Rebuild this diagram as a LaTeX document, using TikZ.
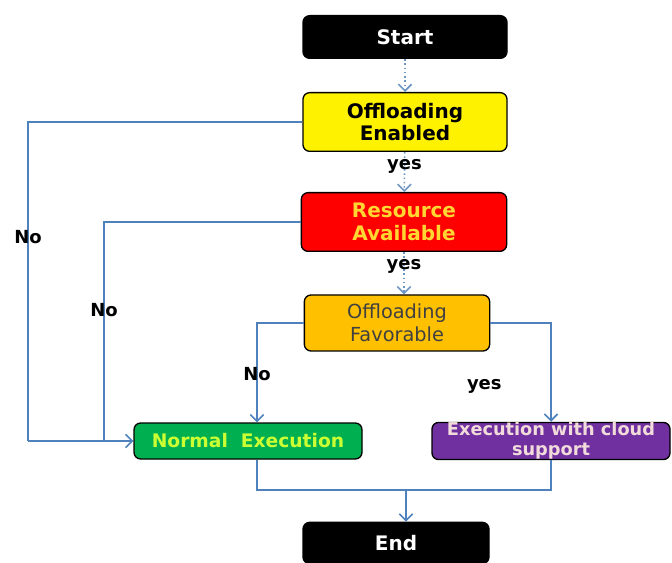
\documentclass[tikz,border=0pt]{standalone}
\usepackage{fontspec}
\setmainfont{DejaVu Sans}
\usetikzlibrary{arrows.meta}
\definecolor{linkblue}{RGB}{79,129,189}
\definecolor{dotblue}{RGB}{110,150,195}
\definecolor{favorfill}{RGB}{255,192,0}
\definecolor{normalfill}{RGB}{0,176,80}
\definecolor{cloudfill}{RGB}{112,48,160}
\definecolor{availtext}{RGB}{255,215,50}
\definecolor{normaltext}{RGB}{204,255,51}
\definecolor{cloudtext}{RGB}{242,220,219}

\begin{document}
\begin{tikzpicture}[x=0.75pt,y=-0.75pt,
	box/.style={draw=black,line width=1pt,rounded corners=5pt,align=center,inner sep=1pt,
		font=\bfseries\fontsize{15}{17}\selectfont},
	line/.style={draw=linkblue,line width=1.2pt},
	link/.style={line,-{Straight Barb[length=5pt,width=10pt]}},
	dots/.style={draw=dotblue,line width=1.2pt,dotted,-{Straight Barb[length=5pt,width=10pt]}},
	lbl/.style={font=\bfseries\fontsize{13.5}{15}\selectfont,inner sep=1pt}]
%
	\useasboundingbox (0,0) rectangle (672,563);
%
	\node[box,fill=black,text=white,minimum width=153pt,minimum height=32pt] (start) at (405,37) {Start};
	\node[box,fill=yellow,minimum width=153pt,minimum height=44pt] (enabled) at (405,122) {Offloading\\Enabled};
	\node[box,fill=red,text=availtext,minimum width=154pt,minimum height=44pt] (avail) at (404,222) {Resource\\Available};
	\node[box,fill=favorfill,text=black!75,font=\fontsize{14.5}{17}\selectfont,minimum width=139pt,minimum height=42pt] (favor) at (397,323) {Offloading\\Favorable};
	\node[box,fill=normalfill,text=normaltext,font=\bfseries\fontsize{14}{16}\selectfont,minimum width=171pt,minimum height=27pt] (normal) at (248,441) {Normal\ \ Execution};
	\node[box,fill=cloudfill,text=cloudtext,font=\bfseries\fontsize{13.3}{15}\selectfont,minimum width=178.5pt,minimum height=27pt,inner sep=0pt] (cloud) at (551,441) {Execution with cloud\\support};
	\node[box,fill=black,text=white,minimum width=139.5pt,minimum height=31pt] (finish) at (396,543) {End};
%
	\coordinate (outer) at (28,441);
	\coordinate (inner) at (104,441);
	\coordinate (merge) at (406,490);
%
	\draw[dots] (start) -- (enabled);
	\draw[dots] (enabled) -- node[lbl,pos=0.35] {yes} (avail);
	\draw[dots] (avail.south) -- node[lbl,pos=0.35] {yes} (avail.south |- favor.north);
%
	\draw[line] (enabled.west) -| node[lbl,pos=0.68] {No} (outer);
	\draw[link] (outer) -- (normal.west);
	\draw[line] (avail.west) -| node[lbl,pos=0.7] {No} (inner);
	\draw[link] (favor.west) -| node[lbl,pos=0.755] {No} ([xshift=6.75pt]normal.north);
	\draw[link] (favor.east) -| node[lbl,pos=0.82,xshift=-50pt] {yes} (cloud.north);
%
	\draw[line] ([xshift=6.75pt]normal.south) |- (merge) -| (cloud.south);
	\draw[link] (merge) -- (merge |- finish.north);
\end{tikzpicture}
\end{document}
